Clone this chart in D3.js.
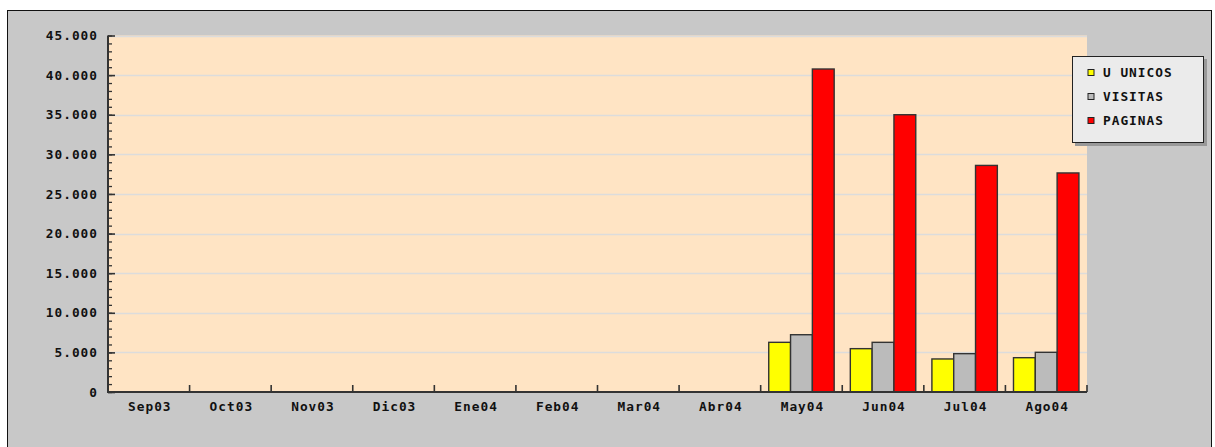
<!DOCTYPE html>
<html><head><meta charset="utf-8">
<script src="https://cdn.jsdelivr.net/npm/d3@7"></script>
<style>
html,body{margin:0;padding:0;background:#fff;}
svg{display:block;}
text{font-family:"DejaVu Sans Mono",monospace;font-weight:bold;font-size:12.8px;letter-spacing:1px;fill:#111;}
</style></head>
<body>
<script>
const categories = ["Sep03","Oct03","Nov03","Dic03","Ene04","Feb04","Mar04","Abr04","May04","Jun04","Jul04","Ago04"];
const seriesNames = ["U UNICOS","VISITAS","PAGINAS"];
const seriesColors = ["#ffff00","#bbbbbb","#ff0000"];
const uUnicos = [0,0,0,0,0,0,0,0,6270,5470,4170,4330];
const visitas = [0,0,0,0,0,0,0,0,7230,6270,4840,5010];
const paginas = [0,0,0,0,0,0,0,0,40770,35000,28600,27650];
const yTicks = [0,5000,10000,15000,20000,25000,30000,35000,40000,45000];
const seriesValues = [uUnicos, visitas, paginas];

const W = 1215, H = 447;
const plot = {left:108, right:1087, top:35.5, bottom:392};

const svg = d3.select("body").append("svg").attr("width",W).attr("height",H);

// background frame
svg.append("rect").attr("x",0).attr("y",0).attr("width",W).attr("height",H).attr("fill","#ffffff");
svg.append("rect").attr("x",7.5).attr("y",10.5).attr("width",1204).attr("height",450)
  .attr("fill","#c8c8c8").attr("stroke","#111").attr("stroke-width",1);

const x0 = d3.scaleBand().domain(categories).range([plot.left, plot.right]).padding(0);
const x1 = d3.scaleBand().domain(seriesNames).range([0, x0.bandwidth()]).paddingInner(0).paddingOuter(0.37);
const y = d3.scaleLinear().domain([0,45000]).range([plot.bottom, plot.top]);

// plot background
svg.append("rect").attr("x",plot.left).attr("y",plot.top).attr("width",plot.right-plot.left).attr("height",plot.bottom-plot.top)
  .attr("fill","#ffe4c4");

// gridlines
svg.append("g").selectAll("line").data(yTicks.filter(d=>d>0)).join("line")
  .attr("x1",plot.left).attr("x2",plot.right)
  .attr("y1",d=>Math.round(y(d))+0.5).attr("y2",d=>Math.round(y(d))+0.5)
  .attr("stroke","#dcdcdc").attr("stroke-width",1.5);

// bars
const groups = svg.append("g").selectAll("g").data(categories).join("g")
  .attr("transform",d=>`translate(${x0(d)},0)`);
groups.selectAll("rect").data((c,i)=>seriesNames.map((s,j)=>({s, v:seriesValues[j][i], c:seriesColors[j]})))
  .join("rect")
  .filter(d=>d.v>0)
  .attr("x",d=>x1(d.s)).attr("width",x1.bandwidth())
  .attr("y",d=>y(d.v)).attr("height",d=>y(0)-y(d.v))
  .attr("fill",d=>d.c).attr("stroke","#333").attr("stroke-width",1.4);

// Y axis
const fmt = d => d3.format(",")(d).replace(/,/g,".");
const yAxisMajor = d3.axisRight(y).tickValues(yTicks).tickSize(7).tickFormat("");
const yAxisMinor = d3.axisRight(y).tickValues(d3.range(0,45001,1000)).tickSize(4).tickFormat("");
svg.append("g").attr("transform",`translate(${plot.left},0)`).call(yAxisMinor)
  .call(g=>{g.select(".domain").remove(); g.selectAll("line").attr("stroke","#333").attr("stroke-width",1.3);});
const gy = svg.append("g").attr("transform",`translate(${plot.left},0)`).call(yAxisMajor);
gy.select(".domain").remove();
gy.selectAll("line").attr("stroke","#333").attr("stroke-width",1.6);
svg.append("g").selectAll("text").data(yTicks).join("text")
  .attr("x",98).attr("y",d=>y(d)+4.7).attr("text-anchor","end").text(fmt);

// X axis ticks and labels
svg.append("g").selectAll("line").data(categories).join("line")
  .attr("x1",d=>x0(d)+x0.bandwidth()).attr("x2",d=>x0(d)+x0.bandwidth())
  .attr("y1",plot.bottom).attr("y2",plot.bottom-7)
  .attr("stroke","#333").attr("stroke-width",1.6);
svg.append("g").selectAll("text").data(categories).join("text")
  .attr("x",d=>x0(d)+x0.bandwidth()/2+1).attr("y",410.5).attr("text-anchor","middle").text(d=>d);

// axis lines
svg.append("line").attr("x1",plot.left).attr("x2",plot.left).attr("y1",plot.top).attr("y2",plot.bottom+1)
  .attr("stroke","#333").attr("stroke-width",2);
svg.append("line").attr("x1",plot.left-1).attr("x2",plot.right).attr("y1",plot.bottom).attr("y2",plot.bottom)
  .attr("stroke","#333").attr("stroke-width",2);

// legend
const lg = svg.append("g");
lg.append("rect").attr("x",1075).attr("y",59).attr("width",132).attr("height",87).attr("fill","#999");
lg.append("rect").attr("x",1072.5).attr("y",56.5).attr("width",131).attr("height",86).attr("fill","#ebebeb").attr("stroke","#222").attr("stroke-width",1);
const rows = lg.selectAll("g").data(seriesNames).join("g")
  .attr("transform",(d,i)=>`translate(0,${72.5+i*24})`);
rows.append("rect").attr("x",1088).attr("y",-3).attr("width",6).attr("height",6)
  .attr("fill",(d,i)=>seriesColors[i]).attr("stroke","#222").attr("stroke-width",1);
rows.append("text").attr("x",1103).attr("y",4.7).text(d=>d);
</script>
</body></html>
